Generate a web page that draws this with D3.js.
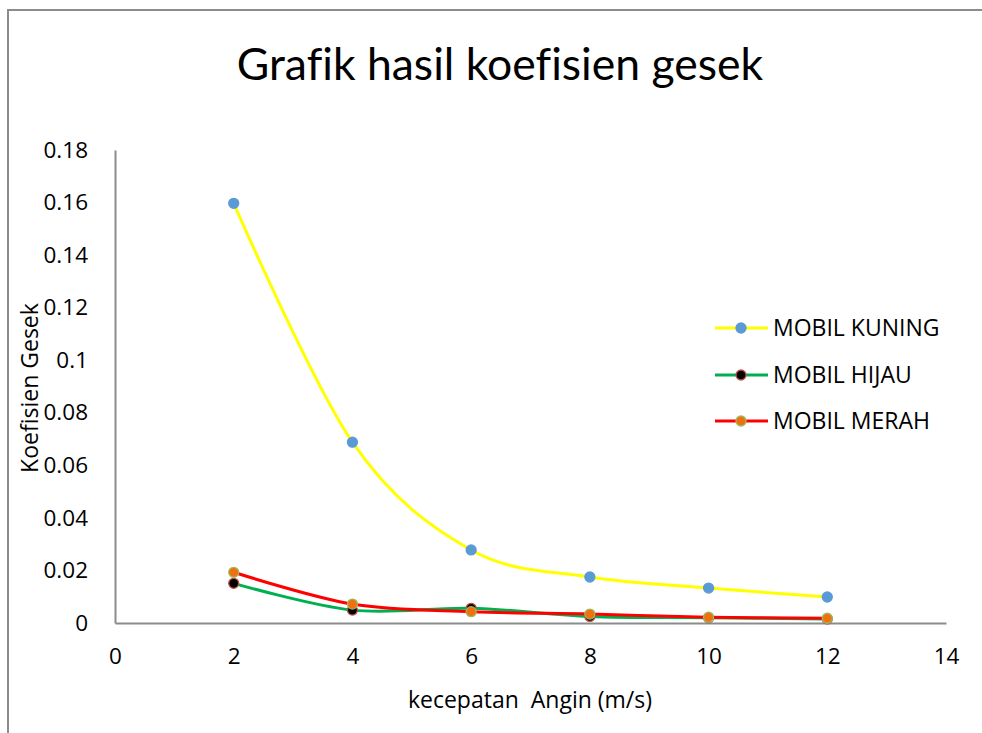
<!DOCTYPE html>
<meta charset="utf-8">
<style>
    body { margin: 0; background: #fff; }
    svg text { font-family: "Open Sans", sans-serif; fill: #000; font-variant-ligatures: none; }
</style>
<script src="https://cdnjs.cloudflare.com/ajax/libs/d3/7.8.5/d3.min.js"></script>
<div id="chart"></div>
<script>
    // data
    var speeds = [2, 4, 6, 8, 10, 12];
    var kuning = [0.1597, 0.0688, 0.0278, 0.0175, 0.0133, 0.0099];
    var hijau  = [0.0151, 0.0049, 0.0056, 0.0025, 0.0020, 0.0015];
    var merah  = [0.0193, 0.0072, 0.0043, 0.0034, 0.0022, 0.0018];
    var seriesNames = ["MOBIL KUNING", "MOBIL HIJAU", "MOBIL MERAH"];
    var xTicks = [0, 2, 4, 6, 8, 10, 12, 14];
    var yTicks = [0, 0.02, 0.04, 0.06, 0.08, 0.1, 0.12, 0.14, 0.16, 0.18];
    var yTickLabels = ["0", "0.02", "0.04", "0.06", "0.08", "0.1", "0.12", "0.14", "0.16", "0.18"];

    var width = 982, height = 733;
    var labelFont = "'Open Sans', sans-serif";

    var svg = d3.select("#chart").append("svg")
        .attr("width", width)
        .attr("height", height);

    // chart border (runs off the right / bottom edge)
    svg.append("rect")
        .attr("x", 8).attr("y", 10)
        .attr("width", 1000).attr("height", 760)
        .attr("fill", "none")
        .attr("stroke", "#8c8c8c")
        .attr("stroke-width", 2);

    var x = d3.scaleLinear().domain([0, 14]).range([115, 946]);
    var y = d3.scaleLinear().domain([0, 0.18]).range([623, 150]);

    var series = [
        {name: seriesNames[0], values: kuning, line: "#ffff00", fill: "#5b9bd5", stroke: "#5b9bd5"},
        {name: seriesNames[1], values: hijau,  line: "#00b050", fill: "#000000", stroke: "#c0504d"},
        {name: seriesNames[2], values: merah,  line: "#ff0000", fill: "#f07010", stroke: "#9bbb59"}
    ];

    // axes
    var xAxis = svg.append("g")
        .attr("transform", "translate(0," + y(0) + ")")
        .call(d3.axisBottom(x).tickValues(xTicks).tickSize(0).tickPadding(25));
    xAxis.select(".domain").attr("stroke", "#8c8c8c").attr("stroke-width", 2);
    xAxis.selectAll("text").style("font-size", "22.5px").style("font-family", labelFont);

    var yAxis = svg.append("g")
        .attr("transform", "translate(" + x(0) + ",0)")
        .call(d3.axisLeft(y).tickValues(yTicks).tickSize(0).tickPadding(27)
            .tickFormat(function(d, i) { return yTickLabels[i]; }));
    yAxis.select(".domain").attr("stroke", "#8c8c8c").attr("stroke-width", 2);
    yAxis.selectAll("text").style("font-size", "22.5px").style("font-family", labelFont);

    // title + axis titles
    svg.append("text")
        .attr("x", 500).attr("y", 80)
        .attr("text-anchor", "middle")
        .style("font-family", "Lato, sans-serif")
        .style("font-size", "44.5px")
        .text("Grafik hasil koefisien gesek");

    svg.append("text")
        .attr("transform", "translate(38,388) rotate(-90)")
        .attr("text-anchor", "middle")
        .style("font-size", "23px")
        .text("Koefisien Gesek");

    svg.append("text")
        .attr("x", 530).attr("y", 708)
        .attr("text-anchor", "middle")
        .style("font-size", "23px")
        .style("white-space", "pre")
        .text("kecepatan  Angin (m/s)");

    // smoothed lines
    var line = d3.line()
        .x(function(d) { return x(d[0]); })
        .y(function(d) { return y(d[1]); })
        .curve(d3.curveCardinal.tension(0));

    series.forEach(function(s) {
        var pts = speeds.map(function(v, i) { return [v, s.values[i]]; });
        svg.append("path")
            .datum(pts)
            .attr("fill", "none")
            .attr("stroke", s.line)
            .attr("stroke-width", 3)
            .attr("d", line);
        svg.selectAll(null)
            .data(pts)
            .enter()
            .append("circle")
            .attr("cx", function(d) { return x(d[0]); })
            .attr("cy", function(d) { return y(d[1]); })
            .attr("r", 5)
            .attr("fill", s.fill)
            .attr("stroke", s.stroke)
            .attr("stroke-width", 1.3);
    });

    // legend
    var legend = svg.selectAll(".legend")
        .data(series)
        .enter()
        .append("g")
        .attr("class", "legend")
        .attr("transform", function(d, i) { return "translate(715," + [328, 375, 421][i] + ")"; });
    legend.append("line")
        .attr("x1", 0).attr("x2", 53)
        .attr("stroke", function(d) { return d.line; })
        .attr("stroke-width", 3);
    legend.append("circle")
        .attr("cx", 26).attr("r", 5)
        .attr("fill", function(d) { return d.fill; })
        .attr("stroke", function(d) { return d.stroke; })
        .attr("stroke-width", 1.3);
    legend.append("text")
        .attr("x", 58).attr("y", 8)
        .style("font-size", "23px")
        .text(function(d) { return d.name; });
</script>
